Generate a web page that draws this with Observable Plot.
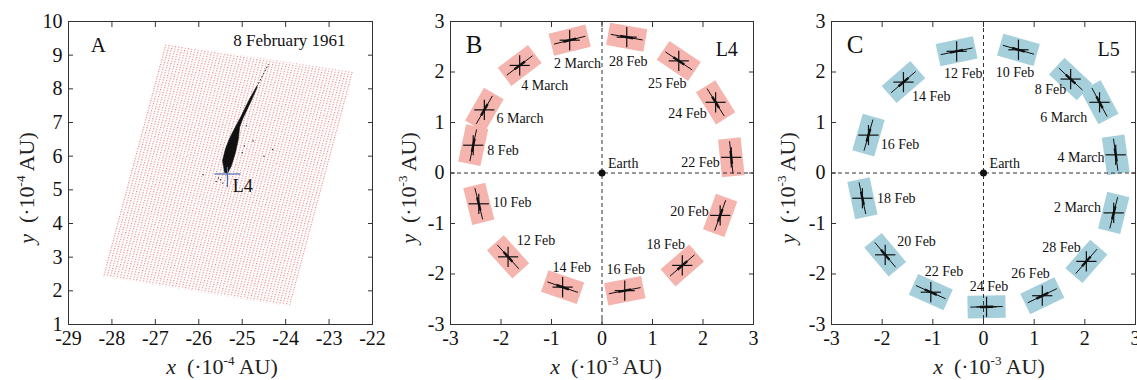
<!DOCTYPE html>
<html><head><meta charset="utf-8">
<script src="https://cdn.jsdelivr.net/npm/d3@7"></script>
<script src="https://cdn.jsdelivr.net/npm/@observablehq/plot@0.6"></script>
<style>
body{margin:0;background:#fff;}
#wrap{position:relative;width:1137px;height:380px;overflow:hidden;font-family:"Liberation Serif",serif;}
#wrap svg{position:absolute;top:0;overflow:visible;background:transparent;font-family:"Liberation Serif",serif;}
#wrap svg text{font-family:"Liberation Serif",serif;}
</style></head><body><div id="wrap"></div>
<script>
// ---------- Panel A data ----------
const aXTicks = [-29,-28,-27,-26,-25,-24,-23,-22];
const aYTicks = [1,2,3,4,5,6,7,8,9,10];
const aGridX = [-28.22,-23.90,-22.44,-26.78];
const aGridY = [2.43,1.54,8.50,9.34];
const aStreakX = [-25.408,-25.454,-25.385,-25.293,-25.201,-25.030,-24.850,-24.671,-24.655,-24.820,-24.985,-25.060,-25.086,-25.155,-25.247,-25.339];
const aStreakY = [5.515,5.872,6.228,6.525,6.763,7.178,7.654,8.070,8.040,7.565,7.119,6.852,6.525,6.109,5.723,5.486];
const aTailX = [-24.66,-24.40];
const aTailY = [8.07,8.72];
const aScatterX = [-25.6,-25.5,-25.45,-25.9,-24.3,-24.5,-24.9,-25.55,-24.75,-24.95,-25.0];
const aScatterY = [5.25,5.3,5.2,5.45,6.2,6.0,6.9,5.35,6.45,6.3,6.1];
const aL4 = [-25.34,5.47];

// ---------- Panel B data (L4) ----------
const bLabels = ["2 March","28 Feb","25 Feb","24 Feb","22 Feb","20 Feb","18 Feb","16 Feb","14 Feb","12 Feb","10 Feb","8 Feb","6 March","4 March"];
const bX = [-0.64,0.49,1.52,2.25,2.56,2.34,1.59,0.45,-0.78,-1.86,-2.44,-2.55,-2.33,-1.63];
const bY = [2.63,2.69,2.22,1.40,0.31,-0.84,-1.83,-2.33,-2.26,-1.66,-0.61,0.55,1.25,2.13];
const bAngle = [14,-10,-34,-58,-84,70,41,11,-19,-48,-76,78,60,37];
const bLabelX = [-0.95,0.14,0.91,1.31,1.57,1.35,0.88,0.09,-0.98,-1.69,-2.16,-2.27,-2.09,-1.60];
const bLabelY = [2.16,2.21,1.78,1.17,0.20,-0.77,-1.41,-1.92,-1.87,-1.34,-0.59,0.44,1.07,1.74];

// ---------- Panel C data (L5) ----------
const cLabels = ["12 Feb","10 Feb","8 Feb","6 March","4 March","2 March","28 Feb","26 Feb","24 Feb","22 Feb","20 Feb","18 Feb","16 Feb","14 Feb"];
const cX = [-0.53,0.69,1.72,2.29,2.61,2.57,2.03,1.16,0.06,-1.04,-1.94,-2.39,-2.27,-1.58];
const cY = [2.41,2.44,1.86,1.40,0.36,-0.79,-1.75,-2.43,-2.65,-2.36,-1.62,-0.50,0.75,1.80];
const cAngle = [12,-16,-43,-62,-82,76,49,26,1,-24,-50,-78,74,41];
const cLabelX = [-0.78,0.24,1.01,1.12,1.46,1.39,1.16,0.55,-0.27,-1.16,-1.70,-2.10,-2.03,-1.41];
const cLabelY = [1.97,1.99,1.66,1.10,0.31,-0.68,-1.48,-1.99,-2.25,-1.95,-1.36,-0.50,0.57,1.51];

const bcTicks = [-3,-2,-1,0,1,2,3];

// ---------- helpers ----------
const FONT = "Liberation Serif";
const style = {fontFamily: FONT, fontSize: "19px", background: "transparent", overflow: "visible", color: "#111"};
const fmt = d => String(d);

function frameAxes(xt, yt) {
  return [
    Plot.frame({stroke: "#333", strokeWidth: 1}),
    Plot.axisX(xt, {anchor: "bottom", tickSize: 0, tickPadding: 6, tickFormat: fmt, label: null, fontSize: 20}),
    Plot.axisY(yt, {anchor: "left", tickSize: 0, tickPadding: 6, tickFormat: fmt, label: null, fontSize: 20}),
    Plot.axisX(xt, {anchor: "bottom", tickSize: 5, dy: -5, tickFormat: () => "", label: null, stroke: "#333"}),
    Plot.axisX(xt, {anchor: "top", tickSize: 5, dy: 5, tickFormat: () => "", label: null, stroke: "#333"}),
    Plot.axisY(yt, {anchor: "left", tickSize: 5, dx: 5, tickFormat: () => "", label: null, stroke: "#333"}),
    Plot.axisY(yt, {anchor: "right", tickSize: 5, dx: -5, tickFormat: () => "", label: null, stroke: "#333"})
  ];
}

function boxRows(xs, ys, angs, w, h) {
  const rows = [];
  xs.forEach((cx, i) => {
    const a = angs[i] * Math.PI / 180, c = Math.cos(a), s = Math.sin(a);
    [[1,1],[-1,1],[-1,-1],[1,-1]].forEach(([p,q]) => {
      rows.push({id: i, x: cx + p*w/2*c - q*h/2*s, y: ys[i] + p*w/2*s + q*h/2*c});
    });
  });
  return rows;
}
function streakRows(xs, ys, angs, L) {
  return xs.map((cx, i) => {
    const a = angs[i] * Math.PI / 180, c = Math.cos(a), s = Math.sin(a);
    return {x1: cx - L/2*c, y1: ys[i] - L/2*s, x2: cx + L/2*c, y2: ys[i] + L/2*s};
  });
}
function crossRows(xs, ys, r) {
  const rows = [];
  xs.forEach((cx, i) => {
    rows.push({x1: cx - r, x2: cx + r, y1: ys[i], y2: ys[i]});
    rows.push({x1: cx, x2: cx, y1: ys[i] - r, y2: ys[i] + r});
  });
  return rows;
}

function fixTicks(svg) {
  d3.select(svg).selectAll('g[aria-label$="tick label"]')
    .style("font-family", '"Liberation Serif", serif').style("font-size", "20px").attr("fill", "#111");
}

function addAxisLabels(svg, cx, cyBase, yx, yCenter, exp) {
  const s = d3.select(svg);
  const tx = s.append("text").attr("x", cx).attr("y", cyBase).attr("text-anchor", "middle")
    .attr("font-size", 22).attr("font-family", FONT).attr("fill", "#222");
  tx.append("tspan").attr("font-style", "italic").text("x");
  tx.append("tspan").text("\u00a0 (·10");
  tx.append("tspan").attr("font-size", 13).attr("dy", -9).text(exp);
  tx.append("tspan").attr("dy", 9).text(" AU)");
  const ty = s.append("text").attr("transform", `translate(${yx},${yCenter}) rotate(-90)`)
    .attr("text-anchor", "middle").attr("font-size", 22).attr("font-family", FONT).attr("fill", "#222");
  ty.append("tspan").attr("font-style", "italic").text("y");
  ty.append("tspan").text("\u00a0 (·10");
  ty.append("tspan").attr("font-size", 13).attr("dy", -9).text(exp);
  ty.append("tspan").attr("dy", 9).text(" AU)");
}

const wrap = document.getElementById("wrap");

// ---------- Panel A ----------
const gridRows = aGridX.map((x, i) => ({x, y: aGridY[i]}));
const streakA = aStreakX.map((x, i) => ({x, y: aStreakY[i]}));
const tailA = aTailX.map((x, i) => ({x, y: aTailY[i]}));
const scatterA = aScatterX.map((x, i) => ({x, y: aScatterY[i]}));
const l4Cross = [
  {x1: aL4[0] - 0.30, x2: aL4[0] + 0.30, y1: aL4[1], y2: aL4[1]},
  {x1: aL4[0], x2: aL4[0], y1: aL4[1] - 0.39, y2: aL4[1] + 0.21}
];
const plotA = Plot.plot({
  width: 380, height: 380, marginLeft: 68, marginRight: 8, marginTop: 21, marginBottom: 56,
  x: {domain: [-29, -22]}, y: {domain: [1, 10]}, style,
  marks: [
    Plot.line(gridRows, {x: "x", y: "y", fill: "url(#gridDots)", stroke: "none"}),
    Plot.line(streakA, {x: "x", y: "y", fill: "#111", stroke: "#111", strokeWidth: 0.5}),
    Plot.line(tailA, {x: "x", y: "y", stroke: "#222", strokeWidth: 1, strokeDasharray: "1,2.5"}),
    Plot.dot(scatterA, {x: "x", y: "y", r: 0.7, fill: "#222"}),
    Plot.link(l4Cross, {x1: "x1", y1: "y1", x2: "x2", y2: "y2", stroke: "#4a6db0", strokeWidth: 1.2}),
    Plot.text(["A"], {x: -28.49, y: 9.29, textAnchor: "start", fontSize: 21}),
    Plot.text(["8 February 1961"], {x: -22.62, y: 9.44, textAnchor: "end", fontSize: 17}),
    Plot.text(["L4"], {x: -25.22, y: 5.10, textAnchor: "start", fontSize: 18}),
    ...frameAxes(aXTicks, aYTicks)
  ]
});
plotA.style.left = "0px";
{
  const defs = d3.select(plotA).insert("defs", ":first-child");
  const pat = defs.append("pattern").attr("id", "gridDots").attr("patternUnits", "userSpaceOnUse")
    .attr("width", 3.3).attr("height", 2.5)
    .attr("patternTransform", "matrix(0.987,0.158,-0.259,0.966,0,0)");
  pat.append("rect").attr("x", 0).attr("y", 0).attr("width", 1.1).attr("height", 1.1).attr("fill", "#e05555").attr("opacity", 0.75);
}
wrap.appendChild(plotA);
fixTicks(plotA);
addAxisLabels(plotA, 222, 374, 34, 188, "-4");

// ---------- Panels B and C ----------
function makeLagrange(xs, ys, angs, labels, lx, ly, color, letter, lname, left, width, mLeft, mRight) {
  const p = Plot.plot({
    width, height: 380, marginLeft: mLeft, marginRight: mRight, marginTop: 21, marginBottom: 56,
    x: {domain: [-3, 3]}, y: {domain: [-3, 3]}, style,
    marks: [
      Plot.line(boxRows(xs, ys, angs, 0.75, 0.45), {x: "x", y: "y", z: "id", fill: color, stroke: "none"}),
      Plot.ruleX([0], {stroke: "#333", strokeDasharray: "4,3", strokeWidth: 1}),
      Plot.ruleY([0], {stroke: "#333", strokeDasharray: "4,3", strokeWidth: 1}),
      Plot.link(streakRows(xs, ys, angs, 0.64), {x1: "x1", y1: "y1", x2: "x2", y2: "y2", stroke: "#111", strokeWidth: 1}),
      Plot.link(streakRows(xs, ys, angs, 0.26), {x1: "x1", y1: "y1", x2: "x2", y2: "y2", stroke: "#111", strokeWidth: 2.4}),
      Plot.link(crossRows(xs, ys, 0.2), {x1: "x1", y1: "y1", x2: "x2", y2: "y2", stroke: "#111", strokeWidth: 1.2}),
      Plot.dot([0], {x: 0, y: 0, r: 3.5, fill: "#111"}),
      Plot.text(["Earth"], {x: 0.12, y: 0.19, textAnchor: "start", fontSize: 14}),
      Plot.text(labels, {x: (d, i) => lx[i], y: (d, i) => ly[i], text: d => d, textAnchor: "start", fontSize: 14}),
      Plot.text([letter], {x: -2.70, y: 2.54, textAnchor: "start", fontSize: 25}),
      Plot.text([lname], {x: 2.25, y: 2.45, textAnchor: "start", fontSize: 20}),
      ...frameAxes(bcTicks, bcTicks)
    ]
  });
  p.style.left = left + "px";
  wrap.appendChild(p);
  fixTicks(p);
  return p;
}
const plotB = makeLagrange(bX, bY, bAngle, bLabels, bLabelX, bLabelY, "#f5b4ae", "B", "L4", 380, 377, 70, 4);
addAxisLabels(plotB, 226, 374, 36, 188, "-3");
const plotC = makeLagrange(cX, cY, cAngle, cLabels, cLabelX, cLabelY, "#a6cfdc", "C", "L5", 757, 380, 74, 2);
addAxisLabels(plotC, 232, 374, 38, 188, "-3");
</script></body></html>
